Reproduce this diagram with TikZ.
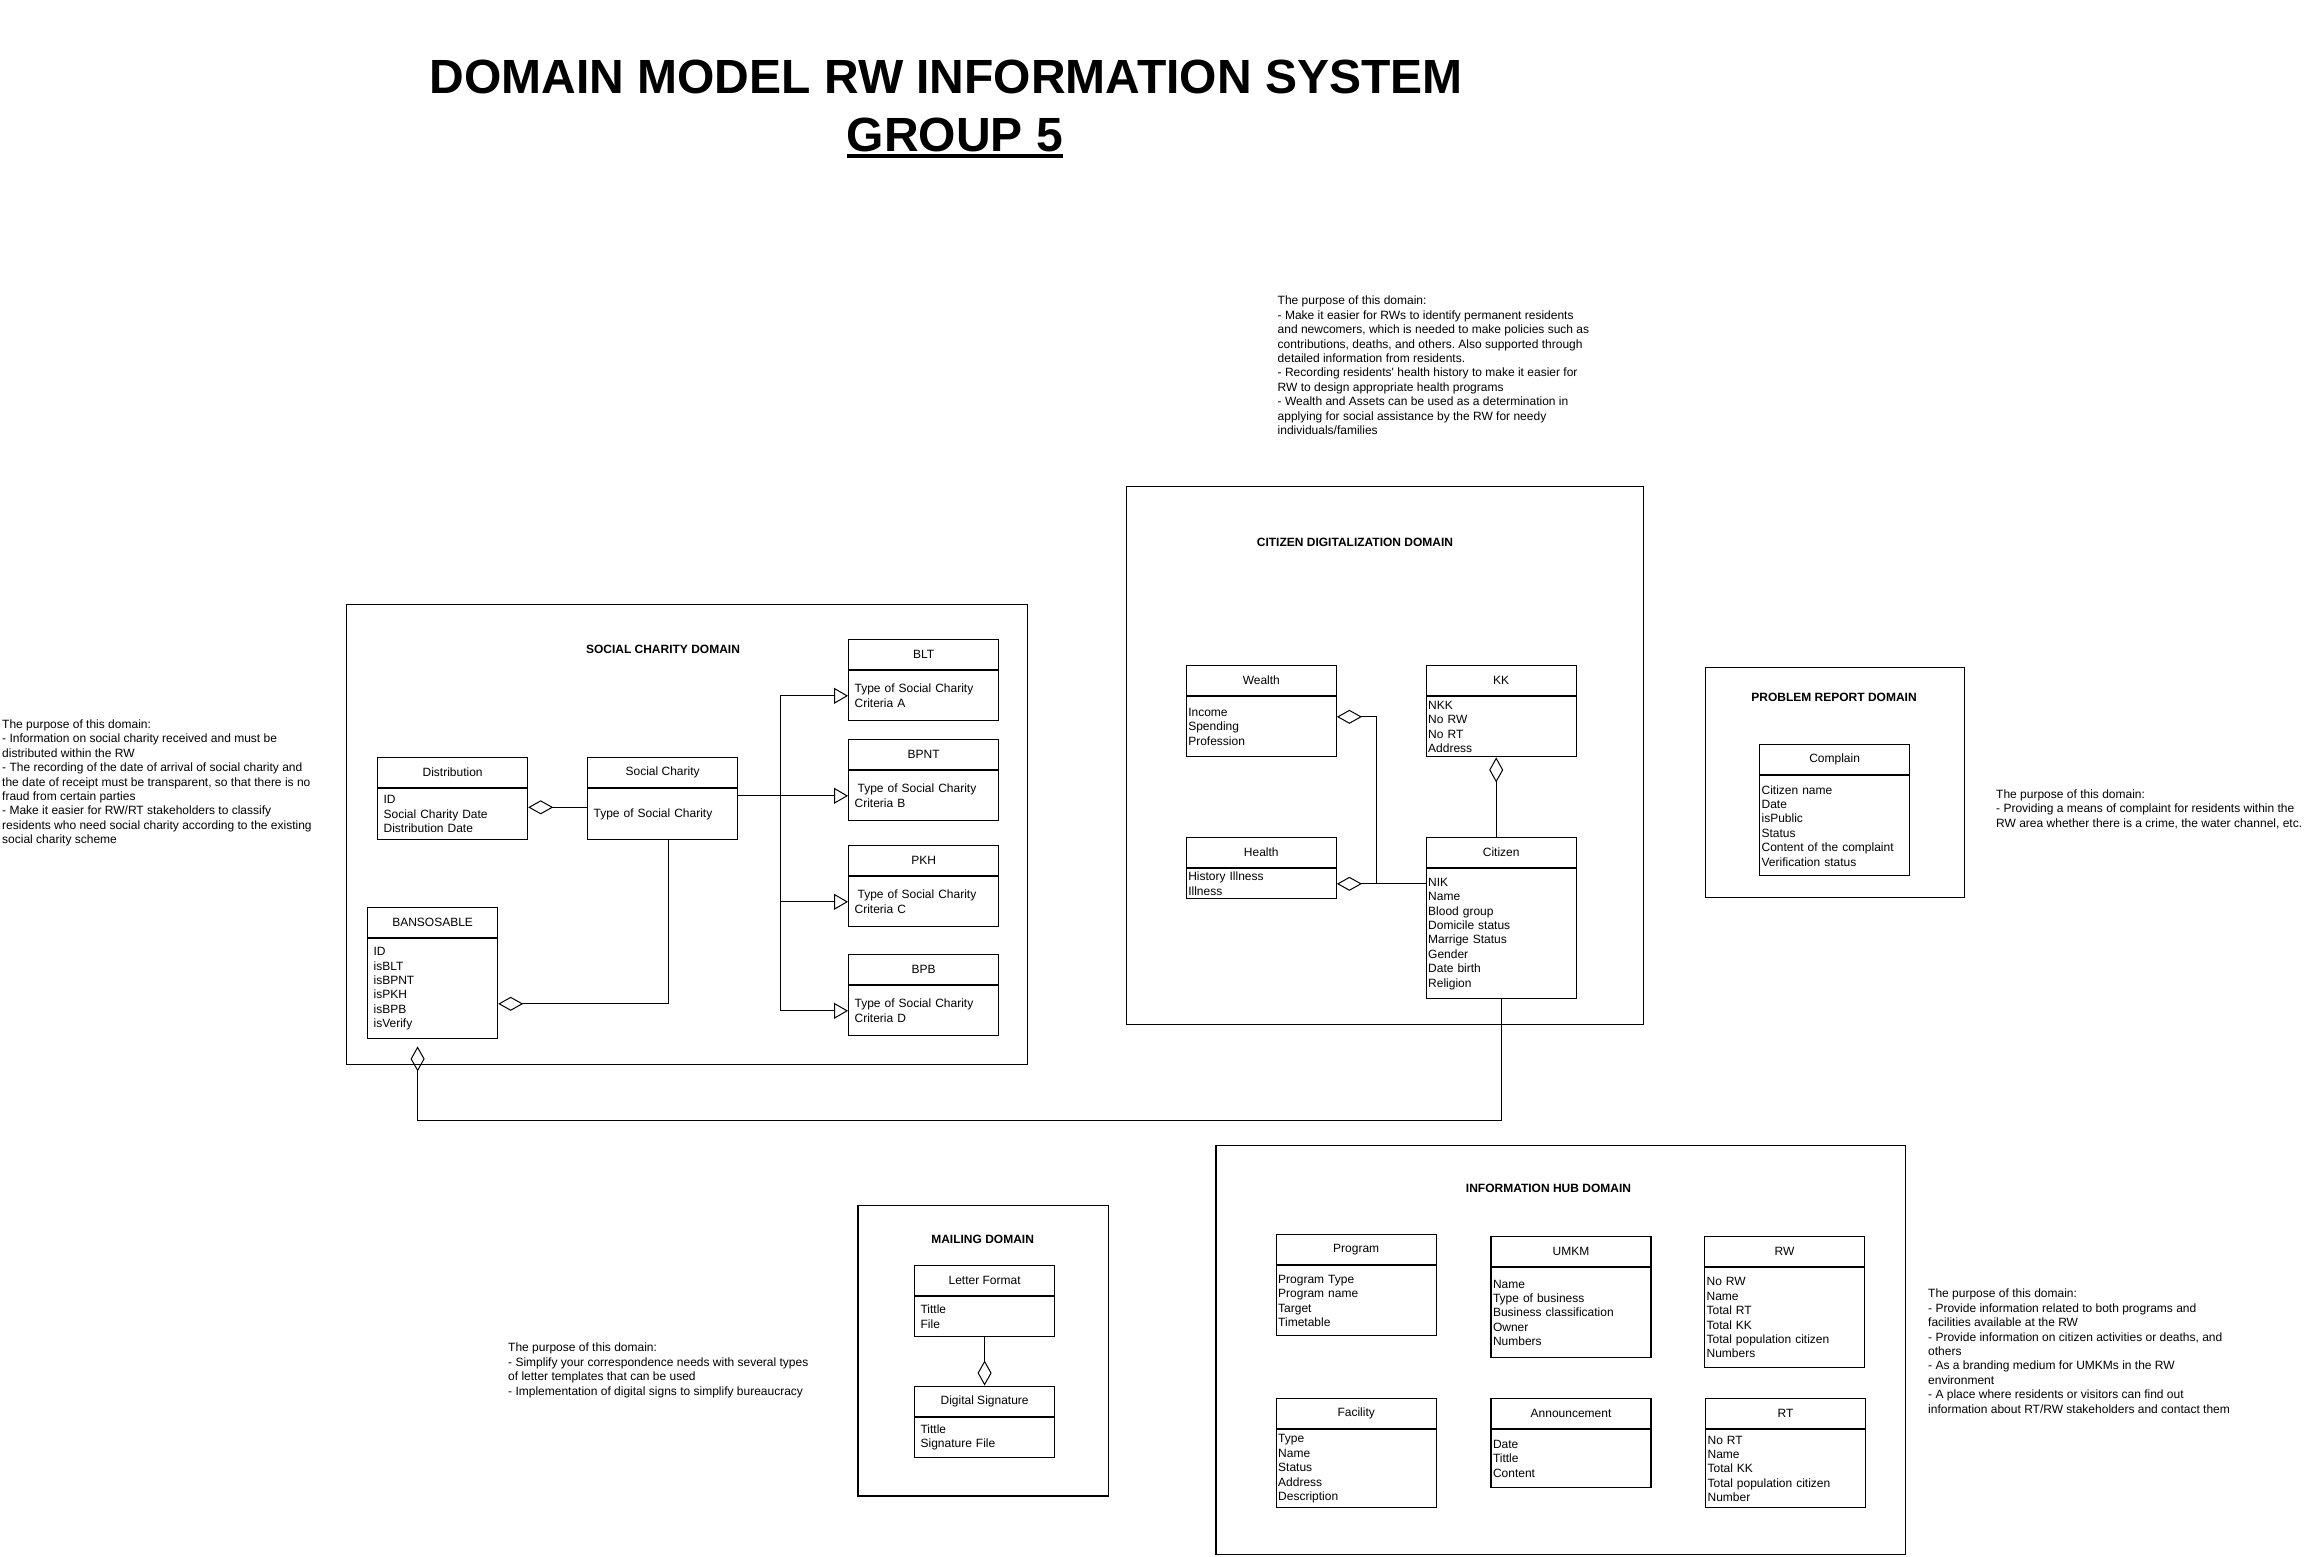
\documentclass[tikz,border=0pt]{standalone}
\usepackage{fontspec}
\setmainfont{Liberation Sans}
\usetikzlibrary{arrows.meta}
\frenchspacing

\begin{document}
\begin{tikzpicture}[x=1pt,y=-1pt,
    every node/.style={font=\fontsize{12}{14.4}\selectfont},
    dombox/.style={draw,line width=1.2pt,anchor=north west,inner sep=0pt},
    domtitle/.style={font=\fontsize{12}{14.4}\selectfont\bfseries},
    clshead/.style={draw,line width=1.2pt,anchor=north west,inner sep=0pt,minimum height=30pt,minimum width=#1},
    clsbody/.style 2 args={draw,line width=1.2pt,anchor=north,inner xsep=2pt,inner ysep=0pt,align=left,text width=#1,minimum height=#2},
    pad/.style={inner xsep=6pt},
    note/.style={anchor=north west,inner sep=0pt,align=left},
    agg/.style={-{Diamond[open,length=25pt,width=14pt]},line width=1pt},
    gen/.style={-{Triangle[open,length=14pt,width=16pt]},line width=1pt}]

    \fill[white] (0,0) rectangle (2310,1556);

    % title
    \node[font=\fontsize{48}{57.6}\selectfont\bfseries,anchor=base,inner sep=0pt] (title) at (946,93.3) {DOMAIN MODEL RW INFORMATION SYSTEM};
    \node[font=\fontsize{48}{57.6}\selectfont\bfseries,anchor=base,inner sep=0pt] (group) at (955,151.7) {GROUP 5};
    \draw[line width=3.5pt] ([yshift=-4.3pt]group.base west) -- ([yshift=-4.3pt]group.base east);

    % social charity domain
    \node[dombox,minimum width=681pt,minimum height=460pt] (scdom) at (346,604) {};
    \node[domtitle] (sctitle) at (663,649) {SOCIAL CHARITY DOMAIN};
    \node[clshead=150pt] (dist) at (377,757) {Distribution};
    \node[clsbody={138pt}{51pt},pad] (distb) at (dist.south) {ID\\Social Charity Date\\Distribution Date};
    \node[clshead=150pt] (sc) at (587,757) {Social Charity};
    \node[clsbody={138pt}{51pt},pad] (scb) at (sc.south) {Type of Social Charity};
    \node[clshead=150pt] (blt) at (848,639) {BLT};
    \node[clsbody={138pt}{50pt},pad] (bltb) at (blt.south) {Type of Social Charity\\Criteria A};
    \node[clshead=150pt] (bpnt) at (848,739) {BPNT};
    \node[clsbody={138pt}{50pt},pad] (bpntb) at (bpnt.south) {\hspace*{3pt}Type of Social Charity\\Criteria B};
    \node[clshead=150pt] (pkh) at (848,845) {PKH};
    \node[clsbody={138pt}{50pt},pad] (pkhb) at (pkh.south) {\hspace*{3pt}Type of Social Charity\\Criteria C};
    \node[clshead=150pt] (bpb) at (848,954) {BPB};
    \node[clsbody={138pt}{50pt},pad] (bpbb) at (bpb.south) {Type of Social Charity\\Criteria D};
    \node[clshead=130pt] (bans) at (367,907) {BANSOSABLE};
    \node[clsbody={118pt}{100pt},pad] (bansb) at (bans.south) {ID\\isBLT\\isBPNT\\isPKH\\isBPB\\isVerify};

    \draw[agg] ([yshift=7pt]scb.west) -- ([yshift=7pt]distb.east);
    \coordinate (fork) at (bpntb.west -| 780,0);
    \draw[line width=1pt] (scb.east |- fork) -- (fork);
    \foreach \c in {blt,bpnt,pkh,bpb}
        \draw[gen] (fork) |- (\c b.west);
    \draw[agg] ([xshift=6pt]scb.south) |- ([yshift=-15pt]bansb.east);

    % citizen digitalization domain
    \node[dombox,minimum width=517pt,minimum height=538pt] (cddom) at (1125.5,486) {};
    \node[domtitle] (cdtitle) at (1355,542) {CITIZEN DIGITALIZATION DOMAIN};
    \node[clshead=150pt] (wealth) at (1185.7,665) {Wealth};
    \node[clsbody={146pt}{60pt}] (wealthb) at (wealth.south) {Income\\Spending\\Profession};
    \node[clshead=150pt] (kk) at (1425.6,665) {KK};
    \node[clsbody={146pt}{60pt}] (kkb) at (kk.south) {NKK\\No RW\\No RT\\Address};
    \node[clshead=150pt] (health) at (1185.7,837) {Health};
    \node[clsbody={146pt}{30pt}] (healthb) at (health.south) {History Illness\\Illness};
    \node[clshead=150pt] (citizen) at (1425.6,837) {Citizen};
    \node[clsbody={146pt}{130pt}] (citb) at (citizen.south) {NIK\\Name\\Blood group\\Domicile status\\Marrige Status\\Gender\\Date birth\\Religion};

    \draw[agg] (healthb.east -| citb.west) -- (healthb.east);
    \draw[agg] ([xshift=40pt]healthb.east) |- ([yshift=10pt]wealthb.east);
    \draw[agg] ([xshift=-5pt]citizen.north) -- ([xshift=-5pt]kkb.south);

    % link between the two domains
    \coordinate (bansfoot) at ([xshift=-15pt]bansb.south);
    \draw[agg,shorten >=7pt] (citb.south) |- (bansfoot |- 0,1120) -- (bansfoot);

    % problem report domain
    \node[dombox,minimum width=259.3pt,minimum height=230pt] (prdom) at (1704.5,667) {};
    \node[domtitle] (prtitle) at (1834,697) {PROBLEM REPORT DOMAIN};
    \node[clshead=150pt] (compl) at (1759,744) {Complain};
    \node[clsbody={146pt}{100pt}] (complb) at (compl.south) {Citizen name\\Date\\isPublic\\Status\\Content of the complaint\\Verification status};

    % mailing domain
    \node[dombox,minimum width=250.4pt,minimum height=290.3pt] (mldom) at (857.4,1205) {};
    \node[domtitle] (mltitle) at (982.6,1239.4) {MAILING DOMAIN};
    \node[clshead=140pt] (letter) at (914,1265) {Letter Format};
    \node[clsbody={128pt}{40pt},pad] (letterb) at (letter.south) {Tittle\\File};
    \node[clshead=140pt] (dsig) at (914,1385.5) {Digital Signature};
    \node[clsbody={128pt}{40pt},pad] (dsigb) at (dsig.south) {Tittle\\Signature File};

    \draw[agg] (letterb.south) -- (dsig.north);

    % information hub domain
    \node[dombox,minimum width=689.5pt,minimum height=409.5pt] (ihdom) at (1215.4,1144.7) {};
    \node[domtitle] (ihtitle) at (1548.5,1188) {INFORMATION HUB DOMAIN};
    \node[clshead=160pt] (prog) at (1275.6,1234) {Program};
    \node[clsbody={156pt}{70pt}] (progb) at (prog.south) {Program Type\\Program name\\Target\\Timetable};
    \node[clshead=160pt] (umkm) at (1490.4,1236) {UMKM};
    \node[clsbody={156pt}{90pt}] (umkmb) at (umkm.south) {Name\\Type of business\\Business classification\\Owner\\Numbers};
    \node[clshead=160pt] (rw) at (1704,1236) {RW};
    \node[clsbody={156pt}{100pt}] (rwb) at (rw.south) {No RW\\Name\\Total RT\\Total KK\\Total population citizen\\Numbers};
    \node[clshead=160pt] (fac) at (1275.6,1398) {Facility};
    \node[clsbody={156pt}{78pt}] (facb) at (fac.south) {Type\\Name\\Status\\Address\\Description};
    \node[clshead=160pt] (ann) at (1490.4,1398) {Announcement};
    \node[clsbody={156pt}{58pt}] (annb) at (ann.south) {Date\\Tittle\\Content};
    \node[clshead=160pt] (rt) at (1705,1398) {RT};
    \node[clsbody={156pt}{78pt}] (rtb) at (rt.south) {No RT\\Name\\Total KK\\Total population citizen\\Number};

    % purpose notes
    \node[note] (scnote) at (2,719.5) {The purpose of this domain:\\- Information on social charity received and must be\\distributed within the RW\\- The recording of the date of arrival of social charity and\\the date of receipt must be transparent, so that there is no\\fraud from certain parties\\- Make it easier for RW/RT stakeholders to classify\\residents who need social charity according to the existing\\social charity scheme};
    \node[note] (cdnote) at (1277.5,296) {The purpose of this domain:\\- Make it easier for RWs to identify permanent residents\\and newcomers, which is needed to make policies such as\\contributions, deaths, and others. Also supported through\\detailed information from residents.\\- Recording residents\textquotesingle{} health history to make it easier for\\RW to design appropriate health programs\\- Wealth and Assets can be used as a determination in\\applying for social assistance by the RW for needy\\individuals/families};
    \node[note] (prnote) at (1996,789.5) {The purpose of this domain:\\- Providing a means of complaint for residents within the\\RW area whether there is a crime, the water channel, etc.};
    \node[note] (mlnote) at (508,1343) {The purpose of this domain:\\- Simplify your correspondence needs with several types\\of letter templates that can be used\\- Implementation of digital signs to simplify bureaucracy};
    \node[note] (ihnote) at (1928,1289) {The purpose of this domain:\\- Provide information related to both programs and\\facilities available at the RW\\- Provide information on citizen activities or deaths, and\\others\\- As a branding medium for UMKMs in the RW\\environment\\- A place where residents or visitors can find out\\information about RT/RW stakeholders and contact them};
\end{tikzpicture}
\end{document}
